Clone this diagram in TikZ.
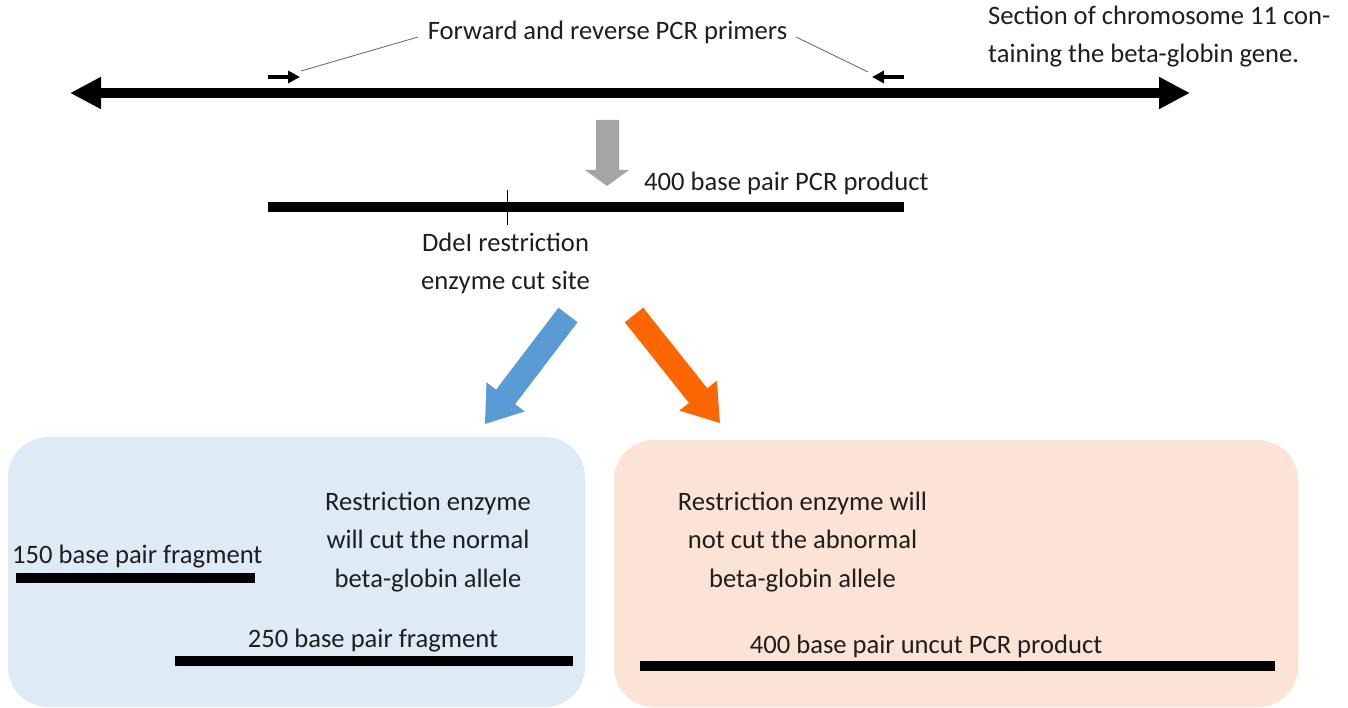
\documentclass[tikz,border=0pt]{standalone}
\usepackage{fontspec}
\setmainfont{Carlito}
\usetikzlibrary{arrows.meta}
\definecolor{ink}{HTML}{1E1E1E}
\definecolor{leader}{HTML}{707070}
\definecolor{arrowgray}{HTML}{A5A5A5}
\definecolor{cutblue}{HTML}{5B9BD5}
\definecolor{uncutorange}{HTML}{FF6600}
\definecolor{normalbg}{HTML}{DEEAF6}
\definecolor{abnormalbg}{HTML}{FBE3D6}
\begin{document}
\begin{tikzpicture}[x=1pt,y=-1pt,
  lbl/.style={font=\fontsize{26.6}{38.5}\selectfont, text=ink, inner sep=0pt, anchor=base},
  dnabar/.style={line width=10pt, black},
  primer/.style={line width=4pt, black, -{Triangle[length=12pt,width=12pt]}},
  leaderline/.style={leader, line width=0.9pt},
  panel/.style={rounded corners=40pt, draw=none}]
\useasboundingbox (0,0) rectangle (1348,708);

% chromosome 11 section
\coordinate (chrL) at (70,93);
\coordinate (chrR) at (1190,93);
\draw[line width=10pt, {Triangle[length=31pt,width=30pt]}-{Triangle[length=31pt,width=30pt]}] (chrL) -- (chrR);

% primers
\coordinate (fwdS) at (268,77);
\coordinate (fwdE) at (300,77);
\coordinate (revS) at (904,77);
\coordinate (revE) at (872,77);
\draw[primer] (fwdS) -- (fwdE);
\draw[primer] (revS) -- (revE);

\node[lbl] (primlbl) at (607.5,39.5) {Forward and reverse PCR primers};
\coordinate (ldL) at (418,37);
\coordinate (ldR) at (796,37);
\coordinate (ldLe) at (301,71);
\coordinate (ldRe) at (868,72);
\draw[leaderline] (ldL) -- (ldLe);
\draw[leaderline] (ldR) -- (ldRe);

% multi-line labels are placed by the baseline of their last line
\node[lbl, anchor=base west, align=left] (chrlbl) at (988,63) {Section of chromosome 11 con-\\taining the beta-globin gene.};

% PCR step arrow
\fill[arrowgray] (596,120) -- (619,120) -- (619,170) -- (629,170) -- (607,186) -- (585,170) -- (596,170) -- cycle;

% PCR product
\node[lbl, anchor=base west] (pcrlbl) at (644,191) {400 base pair PCR product};
\coordinate (pcrL) at (268,207);
\coordinate (pcrR) at (904,207);
\draw[dnabar] (pcrL) -- (pcrR);
\coordinate (cutT) at (507,190);
\coordinate (cutB) at (507,225);
\draw[line width=1pt] (cutT) -- (cutB);
\node[lbl, align=center] (cutlbl) at (505.5,290) {DdeI restriction\\enzyme cut site};

% digestion outcome arrows
\begin{scope}[shift={(568,315)}, rotate=232.7]
  \fill[cutblue] (0,-12) -- (103,-12) -- (103,-24) -- (137,0) -- (103,24) -- (103,12) -- (0,12) -- cycle;
\end{scope}
\begin{scope}[shift={(634,315)}, rotate=-51.5]
  \fill[uncutorange] (0,-11.7) -- (103,-11.7) -- (103,-24) -- (138,0) -- (103,24) -- (103,11.7) -- (0,11.7) -- cycle;
\end{scope}

% normal allele panel
\fill[normalbg, panel] (8,437) rectangle (585,707);
\node[lbl, align=center] (normlbl) at (428,587) {Restriction enzyme\\will cut the normal\\beta-globin allele};
\node[lbl, anchor=base west] (f150lbl) at (12,563) {150 base pair fragment};
\coordinate (f150L) at (16,578);
\coordinate (f150R) at (255,578);
\draw[dnabar] (f150L) -- (f150R);
\node[lbl] (f250lbl) at (373,647) {250 base pair fragment};
\coordinate (f250L) at (175,661);
\coordinate (f250R) at (573,661);
\draw[dnabar] (f250L) -- (f250R);

% abnormal allele panel
\fill[abnormalbg, panel] (614,440) rectangle (1298,707);
\node[lbl, align=center] (abnlbl) at (802.5,587) {Restriction enzyme will\\not cut the abnormal\\beta-globin allele};
\node[lbl] (uncutlbl) at (926,653) {400 base pair uncut PCR product};
\coordinate (uncL) at (640,666);
\coordinate (uncR) at (1275,666);
\draw[dnabar] (uncL) -- (uncR);
\end{tikzpicture}
\end{document}
